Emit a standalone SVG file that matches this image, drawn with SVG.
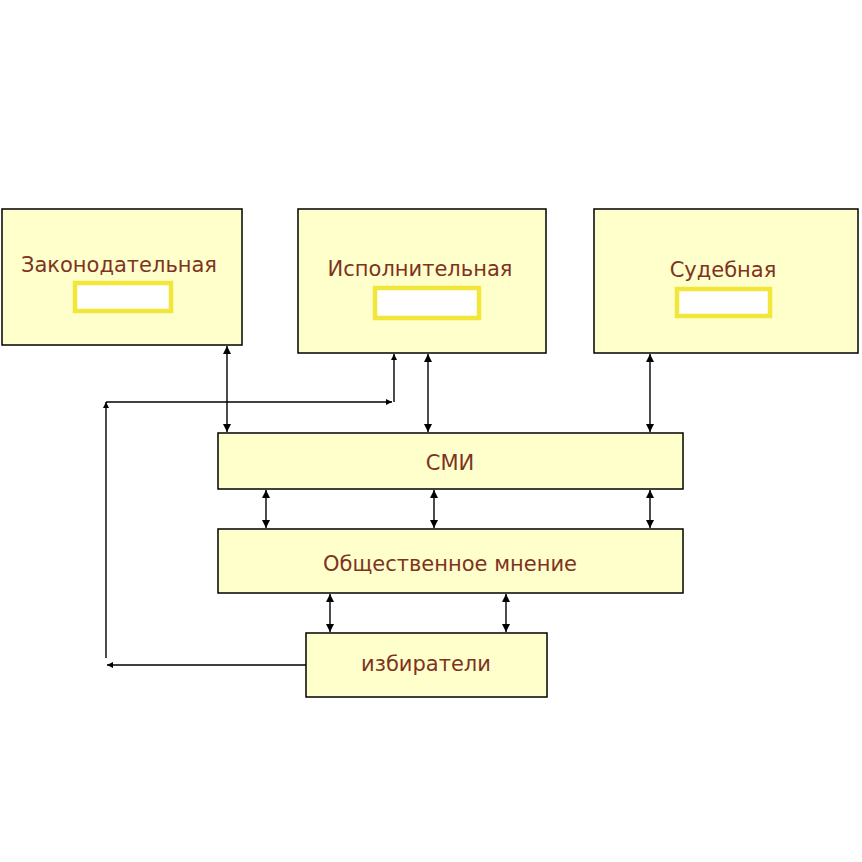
<svg xmlns="http://www.w3.org/2000/svg" width="862" height="862" viewBox="0 0 862 862">
<defs>
<style>
.box{fill:#FFFFCC;stroke:#000;stroke-width:1.5}
.slot{fill:#fff;stroke:#F2E63A;stroke-width:4.5}
.lbl{font-family:"DejaVu Sans","Liberation Sans",sans-serif;font-size:21px;fill:#7E3322;text-anchor:middle}
.con{stroke:#000;stroke-width:1.4;fill:none}
.dbl{marker-start:url(#ah);marker-end:url(#ah)}
.one{marker-end:url(#sm)}
</style>
<marker id="ah" viewBox="0 0 10 10" refX="10" refY="5" markerWidth="10" markerHeight="8" markerUnits="userSpaceOnUse" orient="auto-start-reverse">
<path d="M0,0 L10,5 L0,10 Z" fill="#000"/>
</marker>
<marker id="sm" viewBox="0 0 10 10" refX="10" refY="5" markerWidth="7" markerHeight="6" markerUnits="userSpaceOnUse" orient="auto">
<path d="M0,0 L10,5 L0,10 Z" fill="#000"/>
</marker>
</defs>
<rect width="862" height="862" fill="#fff"/>
<g id="connectors">
<line class="con dbl" x1="227" y1="346" x2="227" y2="432"/>
<line class="con dbl" x1="428" y1="354" x2="428" y2="432"/>
<line class="con dbl" x1="650" y1="354" x2="650" y2="432"/>
<line class="con dbl" x1="266" y1="490" x2="266" y2="528"/>
<line class="con dbl" x1="434" y1="490" x2="434" y2="528"/>
<line class="con dbl" x1="650" y1="490" x2="650" y2="528"/>
<line class="con dbl" x1="330" y1="594" x2="330" y2="632"/>
<line class="con dbl" x1="506" y1="594" x2="506" y2="632"/>
<line class="con one" x1="306" y1="665" x2="107" y2="665"/>
<line class="con one" x1="106" y1="658" x2="106" y2="402"/>
<line class="con one" x1="106" y1="402" x2="392" y2="402"/>
<line class="con one" x1="394" y1="402" x2="394" y2="354"/>
</g>
<g id="zakon">
<rect class="box" x="2" y="209" width="240" height="136"/>
<text class="lbl" x="119" y="272">Законодательная</text>
<rect class="slot" x="75" y="283" width="96" height="28"/>
</g>
<g id="ispoln">
<rect class="box" x="298" y="209" width="248" height="144"/>
<text class="lbl" x="420" y="276">Исполнительная</text>
<rect class="slot" x="375" y="288" width="104" height="30"/>
</g>
<g id="sud">
<rect class="box" x="594" y="209" width="264" height="144"/>
<text class="lbl" x="723" y="277">Судебная</text>
<rect class="slot" x="677" y="289" width="93" height="27"/>
</g>
<g id="smi">
<rect class="box" x="218" y="433" width="465" height="56"/>
<text class="lbl" x="450" y="470">СМИ</text>
</g>
<g id="opinion">
<rect class="box" x="218" y="529" width="465" height="64"/>
<text class="lbl" x="450" y="571">Общественное мнение</text>
</g>
<g id="voters">
<rect class="box" x="306" y="633" width="241" height="64"/>
<text class="lbl" x="426" y="671">избиратели</text>
</g>
</svg>
